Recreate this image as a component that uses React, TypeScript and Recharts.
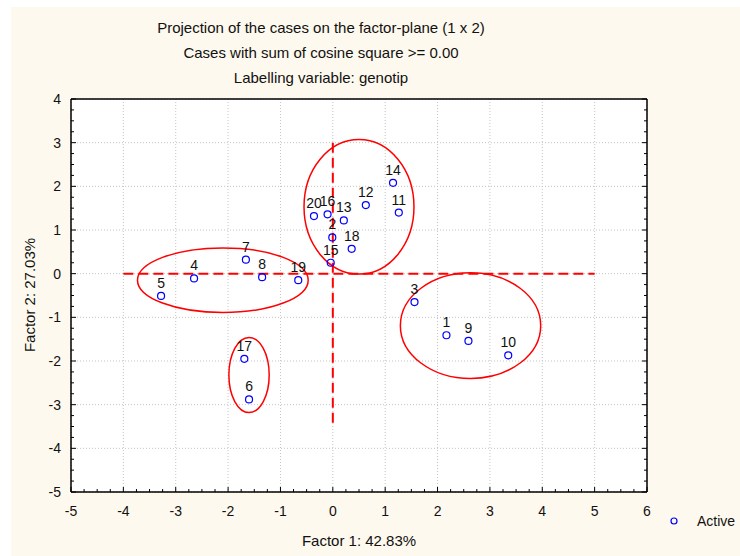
import React from 'react';
import { ScatterChart, Scatter, XAxis, YAxis, CartesianGrid, ReferenceLine, ReferenceArea } from 'recharts';

// case labels (genotip) and their coordinates on the factor plane
const caseLabels = ['1', '2', '3', '4', '5', '6', '7', '8', '9', '10', '11', '12', '13', '14', '15', '16', '17', '18', '19', '20'];
const factor1 = [2.17, -0.01, 1.56, -2.65, -3.28, -1.6, -1.66, -1.35, 2.59, 3.35, 1.26, 0.63, 0.21, 1.15, -0.04, -0.1, -1.69, 0.36, -0.66, -0.36];
const factor2 = [-1.41, 0.83, -0.65, -0.11, -0.51, -2.88, 0.32, -0.08, -1.54, -1.87, 1.4, 1.57, 1.22, 2.08, 0.25, 1.36, -1.95, 0.57, -0.15, 1.32];

const xMajorTicks = [-5, -4, -3, -2, -1, 0, 1, 2, 3, 4, 5, 6];
const yMajorTicks = [-5, -4, -3, -2, -1, 0, 1, 2, 3, 4];

// groups drawn by hand on the plot (center + radii, in factor units)
const groupEllipses = [
  { cx: -2.1, cy: -0.15, rx: 1.63, ry: 0.74 },
  { cx: 0.5, cy: 1.53, rx: 1.05, ry: 1.54 },
  { cx: 2.63, cy: -1.19, rx: 1.34, ry: 1.21 },
  { cx: -1.6, cy: -2.32, rx: 0.385, ry: 0.86 },
];

const hDashSegment = [{ x: -4, y: 0 }, { x: 5, y: 0 }];
const vDashSegment = [{ x: 0, y: 3 }, { x: 0, y: -3.5 }];

const FONT = '"Liberation Sans", Arial, sans-serif';

// quarter-step minor ticks between the major ones
const withMinor = (major: number[]) => {
  const out: number[] = [];
  for (let i = 0; i < major.length - 1; i++) {
    for (let k = 0; k < 4; k++) out.push(major[i] + k * 0.25);
  }
  out.push(major[major.length - 1]);
  return out;
};
const xTicks = withMinor(xMajorTicks);
const yTicks = withMinor(yMajorTicks);

const data = caseLabels.map((name, i) => ({ name, f1: factor1[i], f2: factor2[i] }));

const tickLen = (v: number) => (Number.isInteger(v) ? 5 : 3);

const BottomTick = ({ x, y, payload }: any) => (
  <g>
    <line x1={x} x2={x} y1={y} y2={y - tickLen(payload.value)} stroke="#000" />
    {Number.isInteger(payload.value) && (
      <text x={x} y={y + 24} textAnchor="middle" fontSize={14} fontFamily={FONT} fill="#111">
        {payload.value}
      </text>
    )}
  </g>
);

const TopTick = ({ x, y, payload }: any) => (
  <line x1={x} x2={x} y1={y} y2={y + tickLen(payload.value)} stroke="#000" />
);

const LeftTick = ({ x, y, payload }: any) => (
  <g>
    <line x1={x} x2={x + tickLen(payload.value)} y1={y} y2={y} stroke="#000" />
    {Number.isInteger(payload.value) && (
      <text x={x - 10} y={y + 5} textAnchor="end" fontSize={14} fontFamily={FONT} fill="#111">
        {payload.value}
      </text>
    )}
  </g>
);

const RightTick = ({ x, y, payload }: any) => (
  <line x1={x} x2={x - tickLen(payload.value)} y1={y} y2={y} stroke="#000" />
);

const CasePoint = ({ cx, cy, payload }: any) => (
  <g>
    <circle cx={cx} cy={cy} r={3.5} fill="none" stroke="#0000ff" strokeWidth={1.2} />
    <text x={cx} y={cy - 8} textAnchor="middle" fontSize={14} fontFamily={FONT} fill="#111">
      {payload.name}
    </text>
  </g>
);

const EllipseShape = ({ x, y, width, height }: any) => (
  <ellipse
    cx={x + width / 2}
    cy={y + height / 2}
    rx={Math.abs(width) / 2}
    ry={Math.abs(height) / 2}
    fill="none"
    stroke="#ff0000"
    strokeWidth={1.5}
  />
);

export default function App() {
  return (
    <div style={{ position: 'absolute', left: 0, top: 0, width: 740, height: 556, background: '#fff', fontFamily: FONT }}>
      <svg width={740} height={556} style={{ position: 'absolute', left: 0, top: 0 }}>
        <rect x={11} y={7} width={729} height={549} fill="#fef9ee" />
      </svg>
      <div style={{ position: 'absolute', left: 0, top: 0 }}>
        <ScatterChart width={740} height={556} margin={{ top: 98, right: 92, bottom: 34, left: 31 }}>
          <CartesianGrid
            fill="#fff"
            stroke="#c4c4c4"
            strokeDasharray="1 2"
            verticalValues={xMajorTicks}
            horizontalValues={yMajorTicks}
          />
          <XAxis
            type="number"
            dataKey="f1"
            domain={[-5, 6]}
            ticks={xTicks}
            interval={0}
            allowDataOverflow
            height={30}
            tickSize={0}
            tickMargin={0}
            tickLine={false}
            axisLine={{ stroke: '#000', strokeWidth: 1.5 }}
            tick={<BottomTick />}
          />
          <XAxis
            xAxisId="top"
            orientation="top"
            type="number"
            domain={[-5, 6]}
            ticks={xTicks}
            interval={0}
            allowDataOverflow
            height={1}
            tickSize={0}
            tickMargin={0}
            tickLine={false}
            axisLine={{ stroke: '#000', strokeWidth: 1.5 }}
            tick={<TopTick />}
          />
          <YAxis
            type="number"
            dataKey="f2"
            domain={[-5, 4]}
            ticks={yTicks}
            interval={0}
            allowDataOverflow
            width={40}
            tickSize={0}
            tickMargin={0}
            tickLine={false}
            axisLine={{ stroke: '#000', strokeWidth: 1.5 }}
            tick={<LeftTick />}
          />
          <YAxis
            yAxisId="right"
            orientation="right"
            type="number"
            domain={[-5, 4]}
            ticks={yTicks}
            interval={0}
            allowDataOverflow
            width={1}
            tickSize={0}
            tickMargin={0}
            tickLine={false}
            axisLine={{ stroke: '#000', strokeWidth: 1.5 }}
            tick={<RightTick />}
          />
          {groupEllipses.map((e, i) => (
            <ReferenceArea
              key={i}
              x1={e.cx - e.rx}
              x2={e.cx + e.rx}
              y1={e.cy - e.ry}
              y2={e.cy + e.ry}
              ifOverflow="visible"
              shape={<EllipseShape />}
            />
          ))}
          <ReferenceLine segment={hDashSegment} stroke="#ff0000" strokeWidth={2} strokeDasharray="10 5" />
          <ReferenceLine segment={vDashSegment} stroke="#ff0000" strokeWidth={2} strokeDasharray="10 5" />
          <Scatter data={data} isAnimationActive={false} shape={<CasePoint />} />
        </ScatterChart>
      </div>
      <svg width={740} height={556} style={{ position: 'absolute', left: 0, top: 0, pointerEvents: 'none' }}>
        <g fontFamily={FONT} fontSize={15} fill="#111" textAnchor="middle">
          <text x={321} y={33}>Projection of the cases on the factor-plane (1 x 2)</text>
          <text x={321} y={58}>Cases with sum of cosine square &gt;=  0.00</text>
          <text x={321} y={83}>Labelling variable: genotip</text>
          <text x={359} y={546}>Factor 1: 42.83%</text>
          <text x={0} y={0} transform="translate(35,295) rotate(-90)">Factor 2: 27.03%</text>
        </g>
        <circle cx={674} cy={521} r={3} fill="none" stroke="#0000ff" strokeWidth={1.2} />
        <text x={697} y={526} fontFamily={FONT} fontSize={14} fill="#111">Active</text>
      </svg>
    </div>
  );
}
